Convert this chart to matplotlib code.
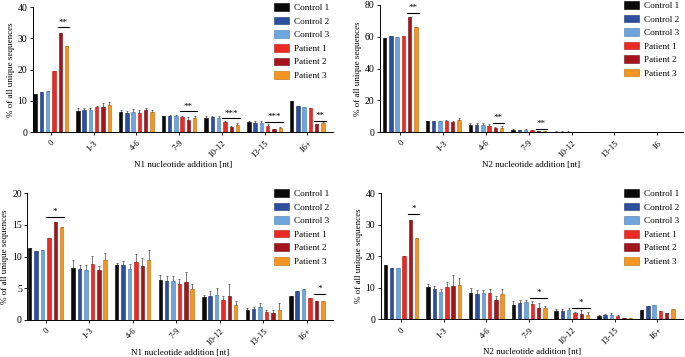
import matplotlib.pyplot as plt
import numpy as np

plt.rcParams['font.family'] = ['Liberation Serif', 'DejaVu Serif']

# 组别与样本
categories_full = ['0', '1-3', '4-6', '7-9', '10-12', '13-15', '16+']
categories_n2top = ['0', '1-3', '4-6', '7-9', '10-12', '13-15', '16']
samples = ['Control 1', 'Control 2', 'Control 3', 'Patient 1', 'Patient 2', 'Patient 3']
colors = ['#0a0a0a', '#2c4f9e', '#6ea6dc', '#ec2a24', '#a5141b', '#f49423']
edges = ['#000000', '#1c3470', '#4a7cb0', '#b01a16', '#6e0d12', '#b86a10']

# 上左: N1
n1_top = [
    [12.2, 6.8, 6.4, 5.2, 4.5, 3.1, 9.9],
    [12.9, 7.0, 6.2, 5.3, 4.7, 3.0, 8.4],
    [13.0, 7.0, 6.4, 5.3, 4.6, 2.9, 8.1],
    [19.4, 7.9, 6.2, 4.8, 3.3, 2.1, 7.6],
    [31.7, 8.1, 7.0, 4.0, 1.7, 0.9, 2.5],
    [27.4, 8.6, 6.4, 4.5, 2.3, 1.4, 2.9],
]
n1_top_err = [
    [0, 0.8, 0.8, 0.1, 0.5, 0.5, 0],
    [0, 0.8, 0.7, 0.1, 0.4, 0.5, 0],
    [0, 0.8, 0.9, 0.2, 0.4, 0.5, 0],
    [0, 0.3, 0.9, 0.4, 0.3, 0.4, 0],
    [0, 1.3, 0.8, 0.8, 0.4, 0.2, 0.2],
    [0, 1.0, 0.8, 0.6, 0.6, 0.3, 0.2],
]
n1_top_sig = [(0, 4, 5, 33.5, '**'), (3, 3, 5, 6.6, '**'), (4, 3, 5, 4.4, '***'),
              (5, 3, 5, 3.3, '***'), (6, 4, 5, 3.7, '**')]

# 上右: N2
n2_top = [
    [59.0, 6.7, 4.6, 1.3, 0.3, 0.05, 0.02],
    [60.5, 6.7, 4.5, 1.2, 0.3, 0.05, 0.02],
    [59.8, 6.8, 4.4, 1.3, 0.3, 0.05, 0.02],
    [60.3, 7.0, 3.7, 1.1, 0.2, 0.03, 0.01],
    [72.5, 6.2, 2.3, 0.5, 0.1, 0.02, 0.01],
    [66.2, 7.6, 2.6, 0.5, 0.1, 0.02, 0.01],
]
n2_top_err = [
    [0, 0.5, 1.3, 0.5, 0.1, 0, 0],
    [0, 0.4, 1.2, 0.4, 0.1, 0, 0],
    [0, 0.3, 1.4, 0.4, 0.1, 0, 0],
    [0, 0.3, 1.3, 0.3, 0.1, 0, 0],
    [0, 0.9, 0.8, 0.2, 0.05, 0, 0],
    [0, 1.3, 1.1, 0.2, 0.05, 0, 0],
]
n2_top_sig = [(0, 4, 5, 75.0, '**'), (2, 4, 5, 6.0, '**'), (3, 4, 5, 2.2, '**')]

# 下左: N1
n1_bot = [
    [11.4, 8.2, 8.7, 6.3, 3.6, 1.5, 3.7],
    [10.9, 8.0, 8.7, 6.1, 3.7, 1.7, 4.6],
    [11.0, 7.8, 8.1, 6.2, 4.0, 2.0, 4.8],
    [12.9, 8.8, 9.1, 5.6, 3.1, 1.3, 3.5],
    [15.5, 7.8, 8.5, 6.0, 3.8, 1.1, 3.0],
    [14.6, 9.4, 9.4, 4.8, 2.3, 1.6, 3.0],
]
n1_bot_err = [
    [0, 1.2, 0.3, 0.8, 0.4, 0.4, 0],
    [0, 0.7, 0.6, 0.8, 0.8, 0.4, 0],
    [0, 0.8, 0.7, 0.7, 1.1, 0.6, 0],
    [0, 1.3, 1.3, 0.9, 0.6, 0.3, 0],
    [0, 0.7, 1.3, 1.5, 1.8, 0.4, 0],
    [0, 1.1, 1.6, 0.9, 0.6, 1.1, 0],
]
n1_bot_sig = [(0, 3, 5, 16.3, '*'), (6, 4, 5, 4.1, '*')]

# 下右: N2
n2_bot = [
    [17.3, 10.2, 8.3, 4.6, 2.6, 1.1, 2.9],
    [16.2, 9.6, 7.9, 5.2, 2.6, 1.4, 4.2],
    [16.1, 8.7, 8.3, 5.5, 3.0, 1.4, 4.5],
    [20.1, 10.3, 8.3, 4.7, 1.8, 1.0, 2.7],
    [31.6, 10.5, 6.2, 3.6, 1.6, 0.4, 2.0],
    [25.7, 10.7, 8.1, 3.4, 1.4, 0.4, 3.1],
]
n2_bot_err = [
    [0, 1.1, 1.6, 1.1, 0.6, 0.2, 0],
    [0, 0.9, 1.4, 0.8, 0.6, 0.2, 0],
    [0, 1.0, 1.1, 0.6, 0.5, 0.4, 0],
    [0, 1.6, 1.3, 1.1, 0.6, 0.3, 0],
    [0, 3.4, 1.3, 1.6, 1.4, 0.1, 0],
    [0, 2.5, 1.5, 0.9, 0.9, 0.1, 0],
]
n2_bot_sig = [(0, 4, 5, 33.5, '*'), (3, 3, 5, 6.8, '*'), (4, 3, 5, 3.7, '*')]

fig = plt.figure(figsize=(6.85, 3.57), dpi=100)

slot = 0.147
bw = 0.08


def draw_panel(rect, vals, errs, sigs, cats, ymax, ystep, xlabel, x_left):
    ax = fig.add_axes(rect)
    x = np.arange(len(cats))
    for i in range(6):
        xs = x + (i - 2.5) * slot
        ax.bar(xs, vals[i], width=bw, color=colors[i], edgecolor=edges[i],
               linewidth=0.4, label=samples[i], zorder=2)
        e = np.array(errs[i])
        ax.errorbar(xs, vals[i], yerr=[np.zeros_like(e), e], fmt='none',
                    ecolor='#444444', elinewidth=0.5, capsize=1.0, capthick=0.5, zorder=1)
    for c, s0, s1, y, lab in sigs:
        x0 = c + (s0 - 2.5) * slot - bw / 2 - 0.02
        x1 = c + (s1 - 2.5) * slot + bw / 2 + 0.02
        ax.plot([x0, x1], [y, y], color='black', lw=0.8)
        ax.text((x0 + x1) / 2, y + ymax * 0.005, lab, ha='center', va='bottom', fontsize=6.5)
    ax.set_xlim(x_left, 6.6)
    ax.set_ylim(0, ymax)
    ax.set_yticks(np.arange(0, ymax + 0.1, ystep))
    ax.set_xticks(x)
    ax.set_xticklabels(cats, rotation=45, ha='right', rotation_mode='anchor')
    ax.tick_params(axis='y', labelsize=7, length=2.5, width=0.6, pad=1.5)
    ax.tick_params(axis='x', labelsize=6.3, length=2.5, width=0.6, pad=2.5)
    for side in ['top', 'right']:
        ax.spines[side].set_visible(False)
    for side in ['left', 'bottom']:
        ax.spines[side].set_linewidth(0.7)
    ax.set_ylabel('% of all unique sequences', fontsize=6.5, labelpad=2)
    ax.set_xlabel(xlabel, fontsize=6.5, labelpad=1)
    ax.legend(loc='upper right', bbox_to_anchor=(1.0, 1.06), frameon=False,
              fontsize=6.6, handlelength=1.7, handleheight=0.9, labelspacing=0.5,
              handletextpad=0.5, borderaxespad=0)
    return ax


draw_panel([0.048, 0.63, 0.438, 0.35], n1_top, n1_top_err, n1_top_sig,
           categories_full, 40, 10, 'N1 nucleotide addition [nt]', -0.42)
draw_panel([0.555, 0.63, 0.442, 0.356], n2_top, n2_top_err, n2_top_sig,
           categories_n2top, 80, 20, 'N2 nucleotide addition [nt]', -0.47)
draw_panel([0.04, 0.104, 0.446, 0.355], n1_bot, n1_bot_err, n1_bot_sig,
           categories_full, 20, 5, 'N1 nucleotide addition [nt]', -0.42)
draw_panel([0.556, 0.106, 0.441, 0.353], n2_bot, n2_bot_err, n2_bot_sig,
           categories_full, 40, 10, 'N2 nucleotide addition [nt]', -0.47)

fig.savefig('out.png', dpi=100)
